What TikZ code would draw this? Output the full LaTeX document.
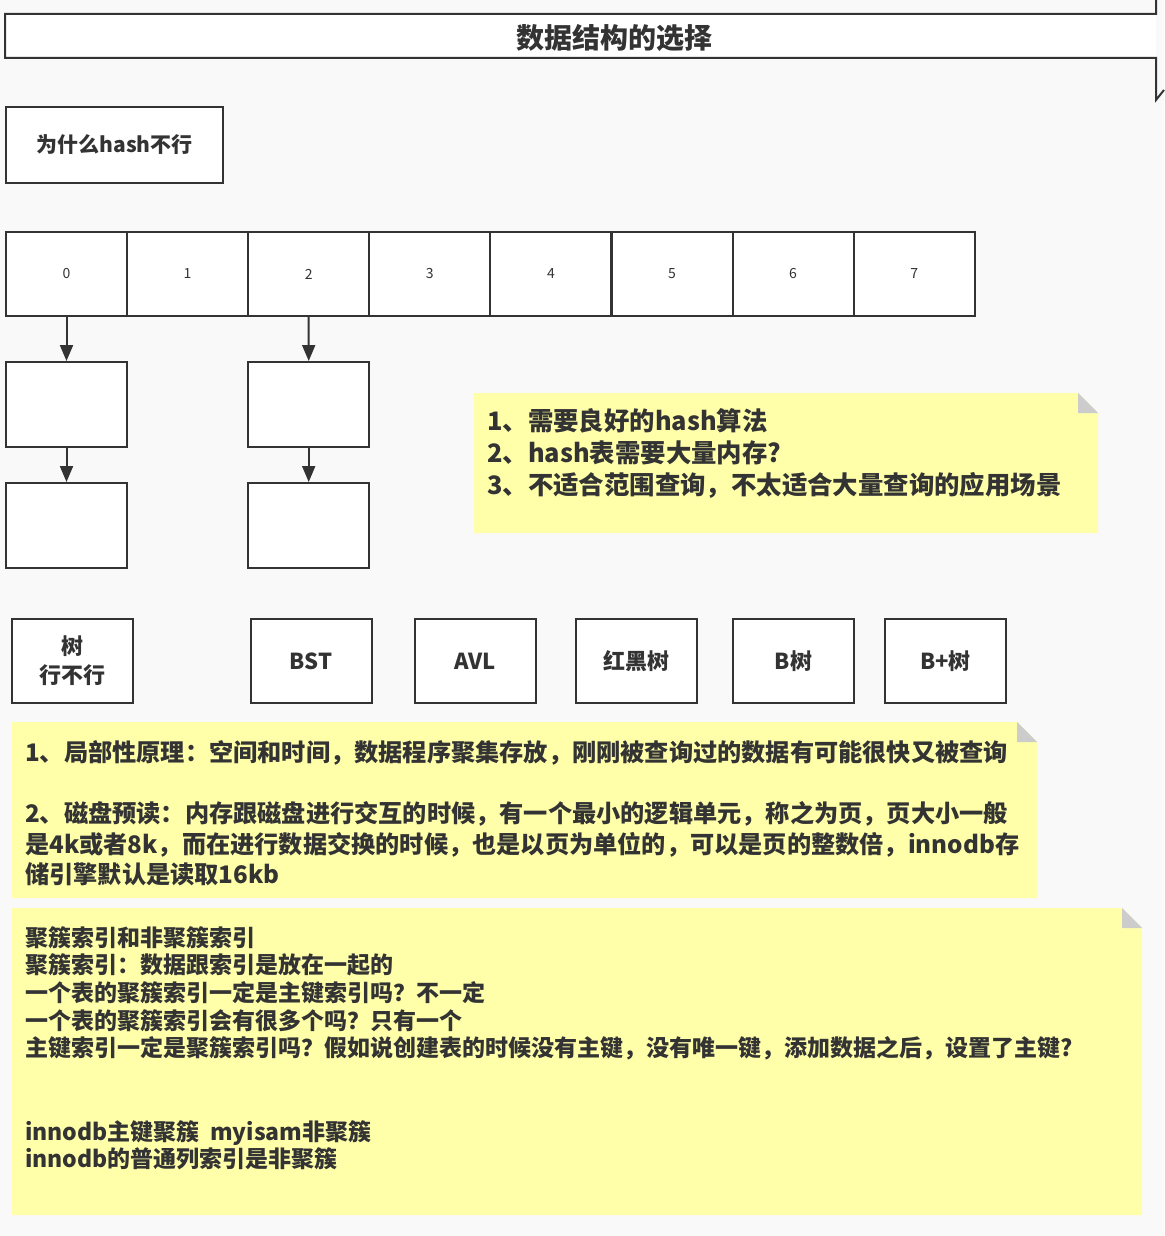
\documentclass[tikz,border=0pt]{standalone}
\usepackage{fontspec}
\setmainfont{Noto Sans CJK SC}
\usetikzlibrary{arrows.meta, positioning}

\definecolor{ink}{HTML}{333333}
\definecolor{paper}{HTML}{F9F9F9}
\definecolor{notefill}{HTML}{FFFFAA}
\definecolor{foldgray}{HTML}{CCCCCC}

\tikzset{
  cellbox/.style={draw=ink, line width=2pt, fill=white, minimum width=121pt, minimum height=84pt,
    inner sep=0pt, text=ink, font=\fontsize{14}{16}\selectfont},
  treebox/.style={cellbox, align=center, font=\fontsize{22}{29}\selectfont\bfseries},
  notetext/.style={anchor=north west, inner sep=0pt, align=left, text=ink},
  link/.style={-{Triangle[length=16pt,width=13pt]}, draw=ink, line width=2pt},
}

% yellow note with folded corner: x1 y1 x2 y2
\newcommand{\notepaper}[4]{%
  \fill[notefill] (#1,#2) -- ({#3-20},#2) -- (#3,{#2+20}) -- (#3,#4) -- (#1,#4) -- cycle;
  \fill[foldgray] ({#3-20},#2) -- ({#3-20},{#2+20}) -- (#3,{#2+20}) -- cycle;
}

\begin{document}
\begin{tikzpicture}[x=1pt, y=-1pt]
\useasboundingbox (0,0) rectangle (1164,1236);
\fill[paper] (0,0) rectangle (1164,1236);

% title frame
\fill[white] (5,14) rectangle (1156,58);
\draw[ink, line width=2pt] (1156,0) -- (1156,14) -- (5,14) -- (5,58) -- (1156,58) -- (1156,100) -- (1164,90);
\node[text=ink, font=\fontsize{28}{32}\selectfont\bfseries] (title) at (614,38) {数据结构的选择};

\node[cellbox, minimum width=217pt, minimum height=76pt, font=\fontsize{21}{24}\selectfont\bfseries] (whyhash) at (114.5,145) {\raisebox{-2pt}{为什么hash不行}};

% hash buckets
\foreach \i in {0,...,7}
  \node[cellbox] (c\i) at ({66.5+121.1*\i},274) {\raisebox{-2pt}{\i}};

% collision chains
\node[cellbox, minimum height=85pt] (h0) at (66.5,404.5) {};
\node[cellbox, minimum height=85pt] (t0) at (66.5,525.5) {};
\node[cellbox, minimum height=85pt] (h2) at (308.7,404.5) {};
\node[cellbox, minimum height=85pt] (t2) at (308.7,525.5) {};
\draw[link] (c0.south) -- (h0.north);
\draw[link] (h0.south) -- (t0.north);
\draw[link] (c2.south) -- (h2.north);
\draw[link] (h2.south) -- (t2.north);

\notepaper{474}{393}{1098}{533}
\node[notetext, font=\fontsize{25.4}{32}\selectfont\bfseries] (why) at (487,408)
  {1、需要良好的hash算法\\
   2、hash表需要大量内存?\\
   3、不适合范围查询，不太适合大量查询的应用场景};

% trees
\node[treebox] (tree) at (72.5,661) {树\\行不行};
\node[treebox] (bst) at (311,661) {BST};
\node[treebox] (avl) at (475,661) {AVL};
\node[treebox] (rbt) at (636.5,661) {红黑树};
\node[treebox] (bt) at (793.5,661) {B树};
\node[treebox] (bpt) at (945.5,661) {B+树};

\notepaper{12}{722}{1037}{898}
\node[notetext, font=\fontsize{24.2}{30.5}\selectfont\bfseries] (locality) at (25,740.5)
  {1、局部性原理：空间和时间，数据程序聚集存放，刚刚被查询过的数据有可能很快又被查询\\[30.5pt]
   2、磁盘预读：内存跟磁盘进行交互的时候，有一个最小的逻辑单元，称之为页，页大小一般\\
   是4k或者8k，而在进行数据交换的时候，也是以页为单位的，可以是页的整数倍，innodb存\\
   储引擎默认是读取16kb};

\notepaper{12}{908}{1142}{1215}
\node[notetext, font=\fontsize{23}{27.7}\selectfont\bfseries] (cluster) at (25,926)
  {聚簇索引和非聚簇索引\\
   聚簇索引：数据跟索引是放在一起的\\
   一个表的聚簇索引一定是主键索引吗？不一定\\
   一个表的聚簇索引会有很多个吗？只有一个\\
   主键索引一定是聚簇索引吗？假如说创建表的时候没有主键，没有唯一键，添加数据之后，设置了主键?\\[55.4pt]
   innodb主键聚簇\ \ myisam非聚簇\\
   innodb的普通列索引是非聚簇};
\end{tikzpicture}
\end{document}
